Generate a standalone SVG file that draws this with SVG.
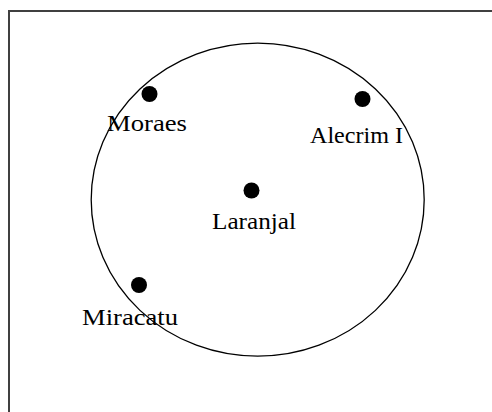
<svg xmlns="http://www.w3.org/2000/svg" width="492" height="412" viewBox="0 0 492 412">
<style>
.lbl{font-family:"Liberation Serif","Times New Roman",serif;font-size:23px;fill:#000}
.dot{fill:#000}
</style>
<rect width="492" height="412" fill="#fff"/>
<rect id="frame" x="9" y="11" width="500" height="420" fill="none" stroke="#404040" stroke-width="2"/>
<g id="region"><ellipse cx="257.7" cy="199.7" rx="166.5" ry="156.5" fill="none" stroke="#000" stroke-width="1.3"/></g>
<g id="moraes"><circle class="dot" cx="149.5" cy="94" r="8"/><text class="lbl" x="107" y="131" textLength="80" lengthAdjust="spacingAndGlyphs">Moraes</text></g>
<g id="alecrim"><circle class="dot" cx="362.5" cy="99" r="8"/><text class="lbl" x="310" y="143" textLength="93" lengthAdjust="spacingAndGlyphs">Alecrim I</text></g>
<g id="laranjal"><circle class="dot" cx="251.5" cy="190.5" r="8"/><text class="lbl" x="212" y="229" textLength="84" lengthAdjust="spacingAndGlyphs">Laranjal</text></g>
<g id="miracatu"><circle class="dot" cx="139" cy="285" r="8"/><text class="lbl" x="82" y="325" textLength="96" lengthAdjust="spacingAndGlyphs">Miracatu</text></g>
<g id="connectors"></g>
</svg>
